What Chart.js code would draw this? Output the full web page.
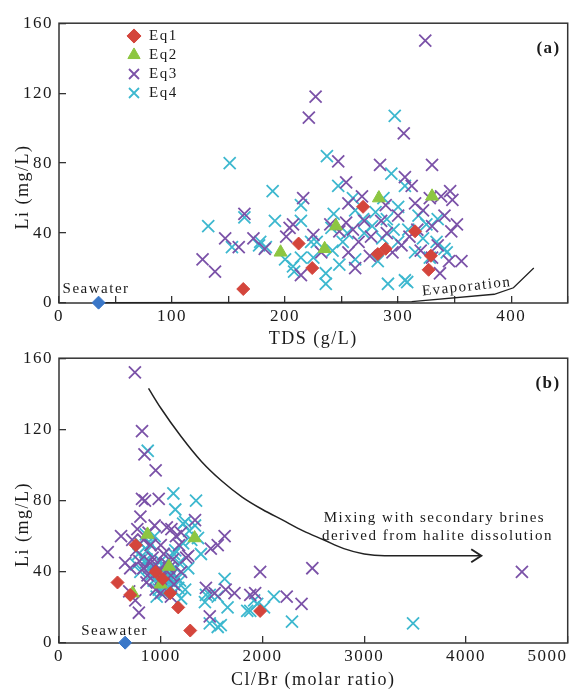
<!DOCTYPE html>
<html><head><meta charset="utf-8">
<script src="https://cdn.jsdelivr.net/npm/chart.js@4.4.1/dist/chart.umd.min.js"></script>
<style>
html,body{margin:0;padding:0;background:#fff;}
#wrap{position:relative;width:578px;height:692px;overflow:hidden;}
canvas{position:absolute;left:0;}
#ca{top:0;width:578px;height:350px;}
#cb{top:335px;width:578px;height:357px;}
</style></head><body>
<div id="wrap"><canvas id="ca" width="578" height="350"></canvas><canvas id="cb" width="578" height="357"></canvas></div>
<script>
// ---------------- DATA ----------------
const seriesNames = ['Eq1', 'Eq2', 'Eq3', 'Eq4'];
const seawaterTds = [35];
const seawaterClBr = [650];
const seawaterLi = [0.2];

// Panel (a): TDS (g/L) vs Li (mg/L)
const eq1Tds = [163,212,224,269,282,289,315,329,327];
const eq1LiA = [8,34,20,55,28,31,41,27,19];
const eq2Tds = [196,235,245,283,330];
const eq2LiA = [29,31,44,60,61];
const eq3Tds = [127,138,147,159,164,172,182,201,204,207,216,214,225,232,221,227,247,254,256,254,248,265,256,268,276,284,289,295,303,305,306,312,315,317,322,324,328,330,330,330,337,338,341,346,347,348,352,345,356,240,260,270,285,300,310,320,335,290,275,262];
const eq3LiA = [25,18,37,32,51,37,31,38,43,45,60,16,39,29,106,118,81,69,57,46,41,35,29,61,38,79,56,29,33,97,72,67,57,42,53,150,60,79,44,26,17,61,50,64,41,59,45,24,24,45,42,47,47,50,38,30,33,40,27,20];
const eq4Tds = [151,189,132,164,191,153,177,214,214,200,207,214,208,223,237,294,247,243,269,241,228,236,236,262,290,296,286,282,291,306,315,322,334,328,343,262,277,309,300,251,248,225,297,341,306,308,178,183,255,270,280,318,325,335,300,287,260,242];
const eq4LiA = [80,64,44,49,47,32,33,56,47,25,21,26,18,35,84,74,67,51,48,43,35,17,11,25,48,42,37,24,11,13,29,37,35,26,29,53,44,42,35,35,22,26,107,31,67,12,35,32,40,40,52,50,45,48,55,60,60,30];
const evapTds = [35,200,312,385,402,420];
const evapLi = [0.2,0.4,0.8,5,8.7,20];

// Panel (b): Cl/Br (molar ratio) vs Li (mg/L)
const eq1ClBr = [575,700,755,1093,1172,1290,1977,950,1020];
const eq1LiB = [34,27,55,28,20,7,18,40,36];
const eq2ClBr = [870,1333,725,1000,1080];
const eq2LiB = [61,59,28,33,43];
const eq3ClBr = [746,816,840,950,816,845,980,800,1337,479,610,785,690,750,1628,1492,1977,2490,2384,2238,4550,1444,1638,1725,1880,1928,1482,1270,1105,1530,1560,720,760,790,830,870,900,920,950,980,1000,1030,1050,1080,1100,1120,1150,1180,1200,700,650,880,940,1060,1250,1000,1100,950,860,770,900,1000,1130,1200,830];
const eq3LiB = [152,119,106,97,81,80,81,71,69,51,60,17,29,24,60,53,40,42,22,26,40,31,30,28,27,28,15,49,64,28,55,58,52,46,42,38,55,48,44,40,36,50,45,42,38,47,60,55,40,42,45,62,66,65,48,28,26,30,34,64,45,55,33,62,58];
const eq4ClBr = [872,1124,1347,1143,1240,853,1366,1628,1560,1444,1482,1590,1948,2015,2112,1918,1880,2290,3480,1220,1337,1395,1270,1482,1434,1657,1560,1850,1172,1143,760,800,830,850,880,900,920,950,970,990,1010,1020,1040,1060,1080,1100,1120,1140,1160,1030,960,900,940,1100,1180,1220,1280,1300,870,800,1000,1050,1240,1200,1020,1060,980,1040,1070,1090,1110,1010,930,860,1150,1130,1190,780];
const eq4LiB = [108,84,80,75,68,61,59,36,26,27,11,10,22,20,26,24,18,12,11,67,66,50,42,27,23,20,9,18,31,52,44,40,48,45,42,38,43,36,40,34,38,32,36,33,35,31,34,29,36,28,26,56,60,48,45,56,63,58,52,56,46,40,30,25,44,38,30,42,30,37,40,29,35,47,42,50,35,50];
const mixClBr = [880,1000,1200,1400,1600,1800,2000,2200,2400,2600,2800,3000,3200,3600,4150];
const mixLi = [143,132,116,102,91,82,75,69,63,58,53,50,49,49,49];

// Tick settings
const liTicks = {min: 0, max: 160, step: 40};
const tdsTicks = {min: 0, max: 450, step: 50, labelEvery: 100};
const clbrTicks = {min: 0, max: 5000, step: 1000};

// ---------------- STYLE ----------------
const SERIF = "'Liberation Serif','Times New Roman',serif";
const INK = '#1a1a1a';
const FRAME = '#333333';
const COL = {Eq1: '#d4453c', Eq2: '#8dc641', Eq3: '#7b52a8', Eq4: '#3db8cf', sea: '#3a77c8'};
Chart.defaults.font.family = SERIF;
Chart.defaults.color = INK;

const pairs = (xs, ys) => xs.map((x, i) => ({x, y: ys[i]}));

function markerSets(xs1, ys1, xs2, ys2, xs3, ys3, xs4, ys4) {
  return [
    {label: seriesNames[0], data: pairs(xs1, ys1), pointStyle: 'rectRot', pointRadius: 6.5, backgroundColor: COL.Eq1, borderColor: COL.Eq1, borderWidth: 1},
    {label: seriesNames[1], data: pairs(xs2, ys2), pointStyle: 'triangle', pointRadius: 7.5, backgroundColor: COL.Eq2, borderColor: COL.Eq2, borderWidth: 1},
    {label: seriesNames[2], data: pairs(xs3, ys3), pointStyle: 'crossRot', pointRadius: 8.5, backgroundColor: COL.Eq3, borderColor: COL.Eq3, borderWidth: 1.8},
    {label: seriesNames[3], data: pairs(xs4, ys4), pointStyle: 'crossRot', pointRadius: 8.5, backgroundColor: COL.Eq4, borderColor: COL.Eq4, borderWidth: 1.8}
  ];
}

function axisGrid() {
  return {drawOnChartArea: false, drawTicks: true, tickLength: -7, color: FRAME, lineWidth: 1.3};
}

function makeScales(xCfg, xLabel, xTitle, xFitHeight, titlePadBottom) {
  return {
    x: {
      type: 'linear', min: xCfg.min, max: xCfg.max,
      ticks: {stepSize: xCfg.step, autoSkip: false, maxRotation: 0, padding: 10, font: {size: 17}, color: INK, callback: xLabel},
      grid: axisGrid(),
      border: {display: false},
      title: {display: true, text: xTitle, font: {size: 18}, color: INK, padding: {top: 0, bottom: titlePadBottom}},
      afterFit(s) { s.height = xFitHeight; s.paddingLeft = 0; s.paddingRight = 0; }
    },
    y: {
      type: 'linear', min: liTicks.min, max: liTicks.max,
      ticks: {stepSize: liTicks.step, padding: 13, font: {size: 17}, color: INK},
      grid: axisGrid(),
      border: {display: false},
      title: {display: true, text: 'Li (mg/L)' + '\u00a0'.repeat(8), font: {size: 18}, color: INK, padding: {top: 12, bottom: 0}},
      afterFit(s) { s.width = 59; }
    }
  };
}

function framePlugin(extra) {
  return {
    id: 'frameNotes',
    beforeDraw(chart) { chart.ctx.letterSpacing = '1.5px'; },
    afterLayout(chart) {
      if (chart.legend && chart.options.plugins.legend.display) {
        const lg = chart.legend;
        lg.left = 122.5; lg.top = 24.5; lg.right = 300; lg.bottom = 140;
      }
    },
    beforeDatasetsDraw(chart) {
      const {ctx, chartArea: a} = chart;
      ctx.save();
      ctx.strokeStyle = FRAME; ctx.lineWidth = 1.5;
      ctx.strokeRect(a.left, a.top, a.right - a.left, a.bottom - a.top);
      ctx.restore();
    },
    afterDatasetsDraw(chart) {
      const {ctx} = chart;
      ctx.save();
      ctx.fillStyle = INK;
      extra(chart, ctx);
      ctx.restore();
    }
  };
}

// ---------------- PANEL (a) ----------------
const dsA = [
  {label: 'Seawater', data: pairs(seawaterTds, seawaterLi), pointStyle: 'rectRot', pointRadius: 6.5, backgroundColor: COL.sea, borderColor: COL.sea, borderWidth: 1},
  ...markerSets(eq1Tds, eq1LiA, eq2Tds, eq2LiA, eq3Tds, eq3LiA, eq4Tds, eq4LiA),
  {label: 'Evaporation', data: pairs(evapTds, evapLi), showLine: true, pointRadius: 0, borderColor: '#222', borderWidth: 1.3, tension: 0}
];
dsA.forEach(d => d.clip = false);

new Chart(document.getElementById('ca'), {
  type: 'scatter',
  data: {datasets: dsA},
  options: {
    responsive: false, animation: false, events: [],
    layout: {padding: {top: 15, right: 2, left: 0, bottom: 0}},
    scales: makeScales(tdsTicks, v => (v % tdsTicks.labelEvery === 0 ? String(v) : ''), 'TDS (g/L)', 47, 0),
    plugins: {
      tooltip: {enabled: false},
      legend: {
        display: true, position: 'chartArea', align: 'start',
        labels: {usePointStyle: true, boxHeight: 10, padding: 4, font: {size: 15}, color: INK,
          filter: item => seriesNames.includes(item.text)}
      }
    }
  },
  plugins: [framePlugin((chart, ctx) => {
    const {x, y} = chart.scales, a = chart.chartArea;
    ctx.font = '15px ' + SERIF;
    ctx.textAlign = 'left'; ctx.textBaseline = 'alphabetic';
    ctx.fillText('Seawater', x.getPixelForValue(seawaterTds[0]) - 36, y.getPixelForValue(0) - 10);
    ctx.save();
    ctx.translate(x.getPixelForValue(361), y.getPixelForValue(7));
    ctx.rotate(-6.2 * Math.PI / 180);
    ctx.textAlign = 'center';
    ctx.fillText('Evaporation', 0, 0);
    ctx.restore();
    ctx.font = 'bold 17px ' + SERIF;
    ctx.textAlign = 'right'; ctx.textBaseline = 'middle';
    ctx.fillText('(a)', a.right - 7, a.top + 25);
  })]
});

// ---------------- PANEL (b) ----------------
const dsB = [
  {label: 'Seawater', data: pairs(seawaterClBr, seawaterLi), pointStyle: 'rectRot', pointRadius: 6.5, backgroundColor: COL.sea, borderColor: COL.sea, borderWidth: 1},
  ...markerSets(eq1ClBr, eq1LiB, eq2ClBr, eq2LiB, eq3ClBr, eq3LiB, eq4ClBr, eq4LiB),
  {label: 'Mixing', data: pairs(mixClBr, mixLi), showLine: true, pointRadius: 0, borderColor: '#222', borderWidth: 1.5, cubicInterpolationMode: 'monotone'}
];
dsB.forEach(d => d.clip = false);

new Chart(document.getElementById('cb'), {
  type: 'scatter',
  data: {datasets: dsB},
  options: {
    responsive: false, animation: false, events: [],
    layout: {padding: {top: 20, right: 3, left: 0, bottom: 0}},
    scales: makeScales(clbrTicks, v => (v === clbrTicks.max ? String(v) + '\u00a0'.repeat(7) : String(v)), 'Cl/Br (molar ratio)', 49, 1),
    plugins: {tooltip: {enabled: false}, legend: {display: false}}
  },
  plugins: [framePlugin((chart, ctx) => {
    const {x, y} = chart.scales, a = chart.chartArea;
    ctx.font = '15px ' + SERIF;
    ctx.textAlign = 'left'; ctx.textBaseline = 'alphabetic';
    ctx.fillText('Seawater', x.getPixelForValue(seawaterClBr[0]) - 44, y.getPixelForValue(0) - 8);
    ctx.textAlign = 'center'; ctx.textBaseline = 'middle';
    ctx.fillText('Mixing with secondary brines', x.getPixelForValue(3690), y.getPixelForValue(70));
    ctx.fillText('derived from halite dissolution', x.getPixelForValue(3720), y.getPixelForValue(60));
    // arrowhead at the end of the mixing curve
    const meta = chart.getDatasetMeta(dsB.length - 1);
    const end = meta.data[meta.data.length - 1];
    ctx.strokeStyle = '#222'; ctx.lineWidth = 2;
    ctx.beginPath();
    ctx.moveTo(end.x - 10, end.y - 6.5);
    ctx.lineTo(end.x, end.y);
    ctx.lineTo(end.x - 10, end.y + 6.5);
    ctx.stroke();
    ctx.font = 'bold 17px ' + SERIF;
    ctx.textAlign = 'right'; ctx.textBaseline = 'middle';
    ctx.fillText('(b)', a.right - 7, a.top + 25);
  })]
});
</script>
</body></html>
